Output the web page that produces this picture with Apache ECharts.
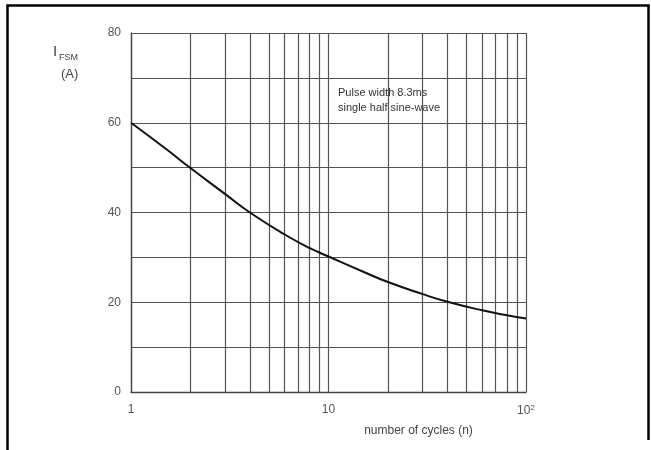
<!DOCTYPE html>
<html>
<head>
<meta charset="utf-8">
<script src="https://cdn.jsdelivr.net/npm/echarts@6/dist/echarts.min.js"></script>
<style>
html,body{margin:0;padding:0;background:#fff;}
#c{width:651px;height:450px;}
</style>
</head>
<body>
<div id="c"></div>
<script>
var cycles = [1, 1.5, 2, 3, 4, 6, 8, 10, 15, 20, 30, 40, 60, 80, 100];
var ifsm = [60, 54.2, 49.9, 44.1, 40, 35.1, 32.1, 30.2, 26.8, 24.5, 21.8, 20.1, 18.2, 17.1, 16.4];
var minorX = [2, 3, 4, 5, 6, 7, 8, 9, 20, 30, 40, 50, 60, 70, 80, 90];
var xTickLabels = {1: '1', 10: '10', 100: '10{sup|2}'};
var yTickLabels = [0, 20, 40, 60, 80];
var noteLines = ['Pulse width 8.3ms', 'single half sine-wave'];

var chart = echarts.init(document.getElementById('c'), null, {renderer: 'canvas'});
var gridColor = '#555';
var font = 'Liberation Sans, Arial, sans-serif';
chart.setOption({
  animation: false,
  backgroundColor: '#fff',
  grid: {left: 131, right: 125, top: 33, bottom: 58},
  xAxis: {
    type: 'log', logBase: 10, min: 1, max: 100,
    axisLine: {show: true, lineStyle: {color: '#444', width: 1.3}},
    axisTick: {show: false},
    splitLine: {show: true, lineStyle: {color: gridColor, width: 1.2}},
    axisLabel: {
      color: '#555', fontFamily: font, fontSize: 12, margin: 12,
      formatter: function (v) { return xTickLabels[Math.round(v)] || ''; },
      rich: {sup: {fontSize: 8, color: '#555', fontFamily: font, verticalAlign: 'top', padding: [0, 0, 6, 0]}}
    },
    name: 'number of cycles (n)', nameLocation: 'middle', nameGap: 33,
    nameTextStyle: {color: '#444', fontFamily: font, fontSize: 12, padding: [0, 0, 0, 180]}
  },
  yAxis: {
    type: 'value', min: 0, max: 80, interval: 10,
    axisLine: {show: true, lineStyle: {color: '#444', width: 1.3}},
    axisTick: {show: false},
    splitLine: {show: true, lineStyle: {color: gridColor, width: 1.2}},
    axisLabel: {
      color: '#555', fontFamily: font, fontSize: 12, margin: 10,
      formatter: function (v) { return yTickLabels.indexOf(v) >= 0 ? String(v) : ''; }
    }
  },
  series: [
    {
      type: 'line', data: cycles.map(function (c, i) { return [c, ifsm[i]]; }),
      smooth: 0.5, showSymbol: false,
      lineStyle: {color: '#111', width: 2},
      markLine: {
        silent: true, symbol: ['none', 'none'], label: {show: false},
        lineStyle: {color: gridColor, width: 1.2, type: 'solid'},
        data: minorX.map(function (x) { return {xAxis: x}; })
      },
      z: 5
    }
  ],
  graphic: [
    {type: 'polyline', shape: {points: [[7.5, 452], [7.5, 5.5], [648.5, 5.5], [648.5, 440]]},
     style: {stroke: '#000', lineWidth: 2.5, fill: null}},
    {type: 'text', left: 53, top: 44, style: {text: 'I', font: '15px ' + font, fill: '#444'}},
    {type: 'text', left: 59, top: 53, style: {text: 'FSM', font: '9px ' + font, fill: '#444'}},
    {type: 'text', left: 61, top: 68, style: {text: '(A)', font: '13px ' + font, fill: '#444'}},
    {type: 'text', left: 338, top: 85, style: {text: noteLines.join('\n'), font: '11px ' + font, fill: '#333', lineHeight: 15, backgroundColor: '#fff'}}
  ]
});
</script>
</body>
</html>
